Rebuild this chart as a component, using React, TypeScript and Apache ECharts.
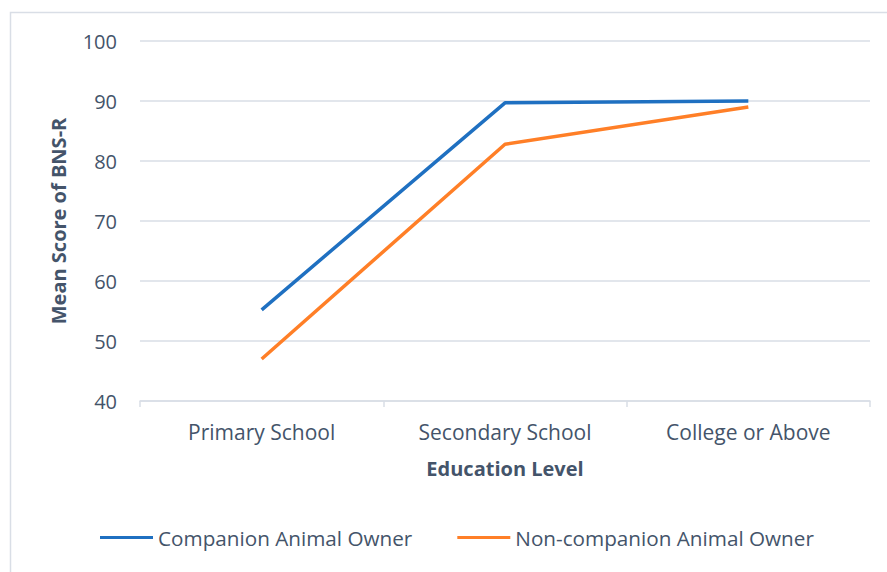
import React, { useEffect, useRef } from "react";
import * as echarts from "echarts";

const categories = ["Primary School", "Secondary School", "College or Above"];
const companionOwner = [55.2, 89.7, 90.0];
const nonCompanionOwner = [47.0, 82.8, 89.0];
const yTicks = { min: 40, max: 100, interval: 10 };

const TEXT = "#44546a";
const GRIDC = "#d9dee6";
const FONT = "'Open Sans', Lato, sans-serif";

export default function App() {
  const ref = useRef<HTMLDivElement>(null);
  useEffect(() => {
    if (!ref.current) return;
    const chart = echarts.init(ref.current, undefined, { renderer: "svg" });
    chart.setOption({
      animation: false,
      backgroundColor: "#ffffff",
      textStyle: { fontFamily: FONT, color: TEXT },
      graphic: [
        {
          type: "rect",
          shape: { x: 10.5, y: 12.5, width: 900, height: 600 },
          style: { fill: "none", stroke: GRIDC, lineWidth: 1.5 },
          silent: true,
        },
      ],
      grid: { left: 140, right: 17, top: 41, bottom: 171 },
      legend: {
        left: 95,
        top: 522,
        icon: "rect",
        itemWidth: 53,
        itemHeight: 3,
        itemGap: 45,
        textStyle: { fontFamily: FONT, fontSize: 20.7, color: TEXT, padding: [0, 0, 0, 0] },
        data: ["Companion Animal Owner", "Non-companion Animal Owner"],
      },
      xAxis: {
        type: "category",
        data: categories,
        boundaryGap: true,
        name: "Education Level",
        nameLocation: "middle",
        nameGap: 57,
        nameTextStyle: { fontFamily: FONT, fontSize: 20, fontWeight: "bold", color: TEXT },
        axisLine: { lineStyle: { color: GRIDC, width: 1.5 } },
        axisTick: { show: true, length: 6, lineStyle: { color: GRIDC, width: 1.5 } },
        axisLabel: { fontFamily: FONT, fontSize: 21, color: TEXT, margin: 20 },
      },
      yAxis: {
        type: "value",
        min: yTicks.min,
        max: yTicks.max,
        interval: yTicks.interval,
        name: "Mean Score of BNS-R",
        nameLocation: "middle",
        nameGap: 72,
        nameTextStyle: { fontFamily: FONT, fontSize: 20, fontWeight: "bold", color: TEXT },
        axisLine: { show: false },
        axisTick: { show: false },
        splitLine: { lineStyle: { color: GRIDC, width: 1.5 } },
        axisLabel: { fontFamily: FONT, fontSize: 20, color: TEXT, margin: 23 },
      },
      series: [
        {
          name: "Companion Animal Owner",
          type: "line",
          data: companionOwner,
          symbol: "none",
          lineStyle: { color: "#1f70c1", width: 3.5 },
          itemStyle: { color: "#1f70c1" },
        },
        {
          name: "Non-companion Animal Owner",
          type: "line",
          data: nonCompanionOwner,
          symbol: "none",
          lineStyle: { color: "#ff7f27", width: 3.5 },
          itemStyle: { color: "#ff7f27" },
        },
      ],
    });
    return () => chart.dispose();
  }, []);
  return (
    <div
      ref={ref}
      style={{ position: "fixed", left: 0, top: 0, width: 887, height: 572 }}
    />
  );
}
